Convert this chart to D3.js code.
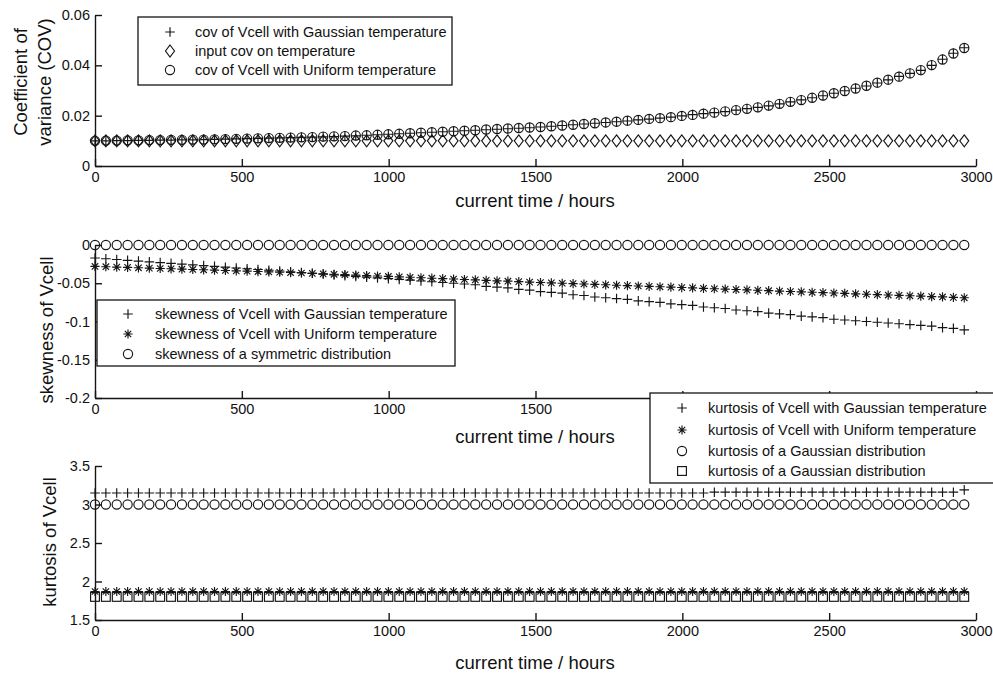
<!DOCTYPE html>
<html><head><meta charset="utf-8">
<script src="https://cdn.jsdelivr.net/npm/d3@7"></script>
<style>
body{margin:0;background:#fff}
svg{display:block}
text{font-family:'Liberation Sans',Arial,Helvetica,sans-serif;fill:#111}
</style>
</head><body>
<svg id="c" width="993" height="676"></svg>
<script>
// ---------------- DATA ----------------
const hours = [
0,37,74,111,148,185,222,259,296,
333,370,407,444,481,518,555,592,629,
666,703,740,777,814,851,888,925,962,
999,1036,1073,1110,1147,1184,1221,1258,1295,
1332,1369,1406,1443,1480,1517,1554,1591,1628,
1665,1702,1739,1776,1813,1850,1887,1924,1961,
1998,2035,2072,2109,2146,2183,2220,2257,2294,
2331,2368,2405,2442,2479,2516,2553,2590,2627,
2664,2701,2738,2775,2812,2849,2886,2923,2960];

const covGauss = [
0.0100,0.0100,0.0101,0.0101,0.0102,0.0102,0.0103,0.0103,0.0104,
0.0104,0.0105,0.0106,0.0107,0.0108,0.0109,0.0110,0.0111,0.0112,
0.0113,0.0114,0.0115,0.0116,0.0117,0.0119,0.0120,0.0122,0.0124,
0.0126,0.0128,0.0130,0.0132,0.0134,0.0136,0.0138,0.0140,0.0142,
0.0144,0.0146,0.0148,0.0150,0.0152,0.0155,0.0158,0.0161,0.0164,
0.0167,0.0170,0.0173,0.0176,0.0179,0.0183,0.0186,0.0190,0.0194,
0.0199,0.0204,0.0208,0.0212,0.0216,0.0222,0.0228,0.0233,0.0239,
0.0247,0.0255,0.0263,0.0271,0.0279,0.0289,0.0299,0.0309,0.0318,
0.0330,0.0342,0.0356,0.0368,0.0380,0.0400,0.0424,0.0448,0.0470];

const covInput = [
0.01,0.01,0.01,0.01,0.01,0.01,0.01,0.01,0.01,
0.01,0.01,0.01,0.01,0.01,0.01,0.01,0.01,0.01,
0.01,0.01,0.01,0.01,0.01,0.01,0.01,0.01,0.01,
0.01,0.01,0.01,0.01,0.01,0.01,0.01,0.01,0.01,
0.01,0.01,0.01,0.01,0.01,0.01,0.01,0.01,0.01,
0.01,0.01,0.01,0.01,0.01,0.01,0.01,0.01,0.01,
0.01,0.01,0.01,0.01,0.01,0.01,0.01,0.01,0.01,
0.01,0.01,0.01,0.01,0.01,0.01,0.01,0.01,0.01,
0.01,0.01,0.01,0.01,0.01,0.01,0.01,0.01,0.01];

const covUniform = [
0.0100,0.0101,0.0101,0.0102,0.0102,0.0103,0.0103,0.0104,0.0104,
0.0105,0.0105,0.0106,0.0107,0.0108,0.0109,0.0110,0.0111,0.0112,
0.0113,0.0114,0.0115,0.0117,0.0118,0.0119,0.0121,0.0122,0.0124,
0.0126,0.0128,0.0130,0.0132,0.0134,0.0136,0.0138,0.0140,0.0142,
0.0145,0.0147,0.0149,0.0151,0.0153,0.0155,0.0158,0.0161,0.0164,
0.0167,0.0170,0.0173,0.0176,0.0180,0.0183,0.0187,0.0190,0.0194,
0.0199,0.0203,0.0208,0.0212,0.0217,0.0222,0.0227,0.0233,0.0240,
0.0247,0.0255,0.0262,0.0271,0.0280,0.0289,0.0298,0.0308,0.0319,
0.0331,0.0343,0.0355,0.0368,0.0381,0.0401,0.0423,0.0447,0.0469];

const skewGauss = [
-0.017,-0.018,-0.019,-0.020,-0.021,-0.022,-0.023,-0.024,-0.025,
-0.026,-0.027,-0.028,-0.029,-0.030,-0.031,-0.032,-0.033,-0.034,
-0.035,-0.036,-0.037,-0.038,-0.039,-0.040,-0.041,-0.042,-0.043,
-0.044,-0.045,-0.046,-0.047,-0.048,-0.049,-0.050,-0.051,-0.052,
-0.054,-0.055,-0.056,-0.058,-0.059,-0.061,-0.062,-0.063,-0.065,
-0.066,-0.068,-0.069,-0.070,-0.071,-0.073,-0.074,-0.075,-0.077,
-0.078,-0.079,-0.081,-0.082,-0.083,-0.085,-0.086,-0.087,-0.089,
-0.090,-0.091,-0.093,-0.094,-0.095,-0.097,-0.098,-0.099,-0.100,
-0.101,-0.102,-0.103,-0.104,-0.105,-0.106,-0.108,-0.109,-0.111];

const skewUniform = [
-0.0280,-0.0284,-0.0289,-0.0293,-0.0298,-0.0302,-0.0307,-0.0311,-0.0316,
-0.0320,-0.0324,-0.0329,-0.0333,-0.0338,-0.0342,-0.0347,-0.0351,-0.0356,
-0.0360,-0.0366,-0.0371,-0.0377,-0.0383,-0.0388,-0.0394,-0.0400,-0.0405,
-0.0411,-0.0417,-0.0422,-0.0428,-0.0434,-0.0439,-0.0445,-0.0451,-0.0456,
-0.0462,-0.0468,-0.0473,-0.0479,-0.0485,-0.0490,-0.0495,-0.0500,-0.0505,
-0.0510,-0.0515,-0.0520,-0.0526,-0.0531,-0.0536,-0.0541,-0.0546,-0.0551,
-0.0556,-0.0561,-0.0567,-0.0572,-0.0577,-0.0582,-0.0587,-0.0592,-0.0597,
-0.0603,-0.0608,-0.0613,-0.0618,-0.0623,-0.0628,-0.0633,-0.0638,-0.0644,
-0.0649,-0.0654,-0.0659,-0.0664,-0.0669,-0.0674,-0.0679,-0.0685,-0.0690];

const skewSym = [
0,0,0,0,0,0,0,0,0,
0,0,0,0,0,0,0,0,0,
0,0,0,0,0,0,0,0,0,
0,0,0,0,0,0,0,0,0,
0,0,0,0,0,0,0,0,0,
0,0,0,0,0,0,0,0,0,
0,0,0,0,0,0,0,0,0,
0,0,0,0,0,0,0,0,0,
0,0,0,0,0,0,0,0,0];

const kurtGauss = [
3.15,3.15,3.15,3.15,3.15,3.15,3.15,3.15,3.15,
3.15,3.15,3.15,3.15,3.15,3.15,3.15,3.15,3.15,
3.15,3.15,3.15,3.15,3.15,3.15,3.15,3.15,3.15,
3.15,3.15,3.15,3.15,3.15,3.15,3.15,3.15,3.15,
3.15,3.15,3.15,3.15,3.15,3.15,3.15,3.15,3.15,
3.15,3.15,3.15,3.15,3.15,3.15,3.15,3.15,3.15,
3.15,3.15,3.15,3.16,3.16,3.16,3.16,3.16,3.16,
3.16,3.16,3.16,3.16,3.16,3.16,3.16,3.16,3.16,
3.16,3.16,3.16,3.16,3.16,3.16,3.16,3.16,3.19];

const kurtUniform = [
1.87,1.87,1.87,1.87,1.87,1.87,1.87,1.87,1.87,
1.87,1.87,1.87,1.87,1.87,1.87,1.87,1.87,1.87,
1.87,1.87,1.87,1.87,1.87,1.87,1.87,1.87,1.87,
1.87,1.87,1.87,1.87,1.87,1.87,1.87,1.87,1.87,
1.87,1.87,1.87,1.87,1.87,1.87,1.87,1.87,1.87,
1.87,1.87,1.87,1.87,1.87,1.87,1.87,1.87,1.87,
1.87,1.87,1.87,1.87,1.87,1.87,1.87,1.87,1.87,
1.87,1.87,1.87,1.87,1.87,1.87,1.87,1.87,1.87,
1.87,1.87,1.87,1.87,1.87,1.87,1.87,1.87,1.87];

const kurtGaussDist = [
3,3,3,3,3,3,3,3,3,
3,3,3,3,3,3,3,3,3,
3,3,3,3,3,3,3,3,3,
3,3,3,3,3,3,3,3,3,
3,3,3,3,3,3,3,3,3,
3,3,3,3,3,3,3,3,3,
3,3,3,3,3,3,3,3,3,
3,3,3,3,3,3,3,3,3,
3,3,3,3,3,3,3,3,3];

const kurtSquare = [
1.8,1.8,1.8,1.8,1.8,1.8,1.8,1.8,1.8,
1.8,1.8,1.8,1.8,1.8,1.8,1.8,1.8,1.8,
1.8,1.8,1.8,1.8,1.8,1.8,1.8,1.8,1.8,
1.8,1.8,1.8,1.8,1.8,1.8,1.8,1.8,1.8,
1.8,1.8,1.8,1.8,1.8,1.8,1.8,1.8,1.8,
1.8,1.8,1.8,1.8,1.8,1.8,1.8,1.8,1.8,
1.8,1.8,1.8,1.8,1.8,1.8,1.8,1.8,1.8,
1.8,1.8,1.8,1.8,1.8,1.8,1.8,1.8,1.8,
1.8,1.8,1.8,1.8,1.8,1.8,1.8,1.8,1.8];

const xTicks = [0,500,1000,1500,2000,2500,3000];
const xTickLabels = ["0","500","1000","1500","2000","2500","3000"];
const covTicks = [0,0.02,0.04,0.06];
const covTickLabels = ["0","0.02","0.04","0.06"];
const skewTicks = [-0.2,-0.15,-0.1,-0.05,0];
const skewTickLabels = ["-0.2","-0.15","-0.1","-0.05","0"];
const kurtTicks = [1.5,2,2.5,3,3.5];
const kurtTickLabels = ["1.5","2","2.5","3","3.5"];

const xLabel = "current time / hours";
const covLegend = ["cov of Vcell with Gaussian temperature","input cov on temperature","cov of Vcell with Uniform temperature"];
const skewLegend = ["skewness of Vcell with Gaussian temperature","skewness of Vcell with Uniform temperature","skewness of a symmetric distribution"];
const kurtLegend = ["kurtosis of Vcell with Gaussian temperature","kurtosis of Vcell with Uniform temperature","kurtosis of a Gaussian distribution","kurtosis of a Gaussian distribution"];

// ---------------- DRAW ----------------
const svg = d3.select('#c');
svg.append('rect').attr('width',993).attr('height',676).attr('fill','#fff');
const INK = '#151515';
const x = d3.scaleLinear().domain([0,3000]).range([95,976]);

function markers(g, type, pts){
  const sel = g.append('g').attr('fill','none').attr('stroke',INK).attr('stroke-width',1.15);
  pts.forEach(([cx,cy])=>{
    if(type==='plus'){
      sel.append('path').attr('d',`M${cx-4.8},${cy}H${cx+4.8}M${cx},${cy-4.8}V${cy+4.8}`);
    } else if(type==='circle'){
      sel.append('circle').attr('cx',cx).attr('cy',cy).attr('r',4.6);
    } else if(type==='diamond'){
      sel.append('path').attr('d',`M${cx},${cy-6}L${cx+4.5},${cy}L${cx},${cy+6}L${cx-4.5},${cy}Z`);
    } else if(type==='square'){
      sel.append('rect').attr('x',cx-4.4).attr('y',cy-4.4).attr('width',8.8).attr('height',8.8);
    } else if(type==='star'){
      sel.append('path').attr('d',`M${cx-4.6},${cy}H${cx+4.6}M${cx},${cy-4.6}V${cy+4.6}M${cx-3.2},${cy-3.2}L${cx+3.2},${cy+3.2}M${cx-3.2},${cy+3.2}L${cx+3.2},${cy-3.2}`);
    }
  });
}

function series(g, y, vals, type){
  const pts = d3.zip(hours, vals).map(([h,v])=>[x(h), y(v)]);
  markers(g, type, pts);
}

// hideFrom: tick labels at or beyond this x are covered by a legend box, so not drawn
function axes(y, yTicks, yLabels, y0, xlabY, hideFrom){
  const g = svg.append('g');
  const gx = g.append('g').attr('transform',`translate(0,${y0})`)
    .call(d3.axisBottom(x).tickValues(xTicks).tickFormat((d,i)=>xTickLabels[i])
      .tickSizeInner(-7).tickSizeOuter(0).tickPadding(6));
  const gy = g.append('g').attr('transform',`translate(95,0)`)
    .call(d3.axisLeft(y).tickValues(yTicks).tickFormat((d,i)=>yLabels[i])
      .tickSizeInner(-7).tickSizeOuter(0).tickPadding(5));
  [gx,gy].forEach(a=>{
    a.select('.domain').attr('stroke',INK).attr('stroke-width',1.4);
    a.selectAll('.tick line').attr('stroke',INK).attr('stroke-width',1.4);
    a.selectAll('.tick text').attr('font-size','14.5px').attr('fill','#111')
      .attr('font-family',"'Liberation Sans',Arial,sans-serif");
  });
  if(hideFrom!==undefined){
    gx.selectAll('.tick').filter(d=>x(d)-20>=hideFrom).select('text').remove();
  }
  svg.append('text').attr('x',535).attr('y',xlabY).attr('text-anchor','middle')
    .attr('dominant-baseline','central').attr('font-size','18.5px').text(xLabel);
  return g;
}

function ylab(lines, xs, cy){
  lines.forEach((t,i)=>{
    svg.append('text').attr('transform',`translate(${xs[i]},${cy}) rotate(-90)`)
      .attr('text-anchor','middle').attr('dominant-baseline','central')
      .attr('font-size','18.5px').text(t);
  });
}

function legend(box, symX, textX, rows, labels, types){
  const g = svg.append('g');
  g.append('rect').attr('x',box[0]).attr('y',box[1]).attr('width',box[2]).attr('height',box[3])
    .attr('fill','#fff').attr('stroke',INK).attr('stroke-width',1.3);
  labels.forEach((t,i)=>{
    markers(g, types[i], [[symX, rows[i]]]);
    g.append('text').attr('x',textX).attr('y',rows[i]).attr('dominant-baseline','central')
      .attr('font-size','14.5px').text(t);
  });
}

// Panel 1: COV
const y1 = d3.scaleLinear().domain([0,0.06]).range([166,15]);
axes(y1, covTicks, covTickLabels, 166, 200);
const p1 = svg.append('g');
series(p1, y1, covInput, 'diamond');
series(p1, y1, covUniform, 'circle');
series(p1, y1, covGauss, 'plus');
ylab(["Coefficient of","variance (COV)"],[20,44],82);

// Panel 2: skewness
const y2 = d3.scaleLinear().domain([-0.2,0]).range([398,245]);
axes(y2, skewTicks, skewTickLabels, 398, 436, 650);
const p2 = svg.append('g');
series(p2, y2, skewSym, 'circle');
series(p2, y2, skewUniform, 'star');
series(p2, y2, skewGauss, 'plus');
ylab(["skewness of Vcell"],[46],330);

// Panel 3: kurtosis
const y3 = d3.scaleLinear().domain([1.5,3.5]).range([620,466]);
axes(y3, kurtTicks, kurtTickLabels, 620, 662);
const p3 = svg.append('g');
series(p3, y3, kurtGaussDist, 'circle');
series(p3, y3, kurtSquare, 'square');
series(p3, y3, kurtUniform, 'star');
series(p3, y3, kurtGauss, 'plus');
ylab(["kurtosis of Vcell"],[49],542);

// Legends
legend([138,17,314,68], 170, 195, [32,51,70], covLegend, ['plus','diamond','circle']);
legend([97,300,358,66], 128, 155, [314,334,354], skewLegend, ['plus','star','circle']);
legend([650,393,346,90], 682, 708, [408,430,451,471], kurtLegend, ['plus','star','circle','square']);
</script>
</body></html>
